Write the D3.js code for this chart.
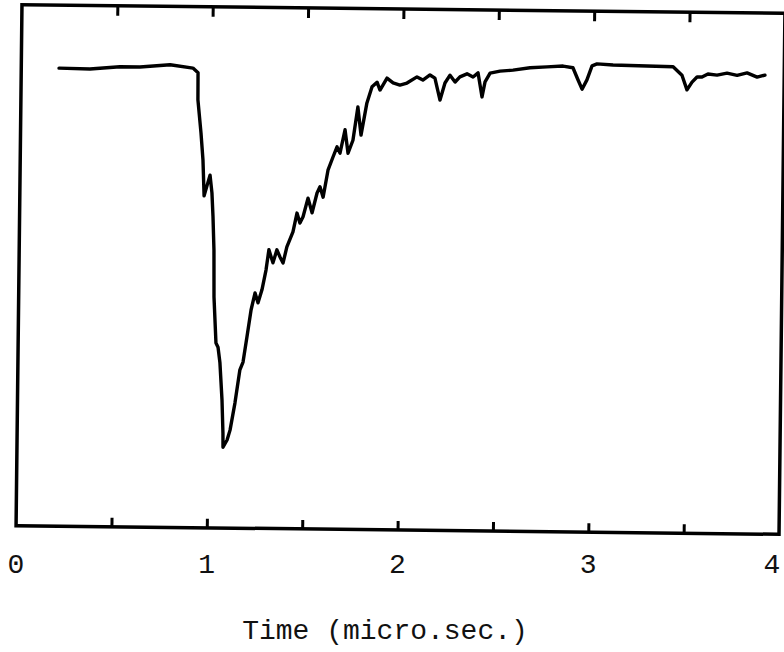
<!DOCTYPE html>
<html>
<head>
<meta charset="utf-8">
<script src="https://cdn.jsdelivr.net/npm/d3@7/dist/d3.min.js"></script>
<style>
  html, body { margin: 0; padding: 0; background: #fff; }
  svg { display: block; }
</style>
</head>
<body>
<div id="chart"></div>
<script>
// Oscilloscope trace: signal deflection against time (microseconds)
const timeUs = [
  0.198, 0.360, 0.517, 0.622, 0.780, 0.900, 0.927, 0.928, 0.946, 0.958,
  0.966, 0.996, 1.007, 1.014, 1.021, 1.024, 1.037, 1.048, 1.059, 1.072,
  1.079, 1.080, 1.101, 1.116, 1.140, 1.164, 1.180, 1.199, 1.219, 1.239,
  1.255, 1.275, 1.295, 1.309, 1.331, 1.351, 1.368, 1.384, 1.403, 1.434,
  1.454, 1.470, 1.486, 1.511, 1.533, 1.558, 1.573, 1.590, 1.614, 1.639,
  1.660, 1.676, 1.701, 1.718, 1.743, 1.767, 1.785, 1.814, 1.840, 1.866,
  1.882, 1.918, 1.950, 1.986, 2.023, 2.075, 2.106, 2.143, 2.169, 2.197,
  2.222, 2.248, 2.275, 2.300, 2.337, 2.369, 2.395, 2.417, 2.432, 2.458,
  2.510, 2.578, 2.667, 2.756, 2.840, 2.892, 2.919, 2.941, 2.966, 2.992,
  3.018, 3.102, 3.280, 3.417, 3.464, 3.491, 3.517, 3.543, 3.569, 3.600,
  3.648, 3.700, 3.753, 3.805, 3.858, 3.899
];
const signal = [
  8.79, 8.78, 8.83, 8.83, 8.88, 8.82, 8.73, 8.21, 7.58, 7.06,
  6.37, 6.77, 6.43, 5.97, 5.33, 4.43, 3.55, 3.47, 3.17, 2.46,
  1.82, 1.55, 1.69, 1.88, 2.40, 3.04, 3.19, 3.67, 4.19, 4.52,
  4.33, 4.58, 4.96, 5.35, 5.10, 5.35, 5.21, 5.10, 5.41, 5.70,
  6.06, 5.87, 5.99, 6.35, 6.07, 6.45, 6.57, 6.37, 6.89, 7.14,
  7.34, 7.22, 7.67, 7.22, 7.47, 8.11, 7.57, 8.19, 8.50, 8.59,
  8.44, 8.67, 8.58, 8.54, 8.58, 8.70, 8.64, 8.74, 8.68, 8.26,
  8.59, 8.74, 8.61, 8.71, 8.77, 8.71, 8.79, 8.33, 8.62, 8.79,
  8.83, 8.85, 8.90, 8.92, 8.94, 8.91, 8.68, 8.50, 8.68, 8.95,
  8.99, 8.97, 8.96, 8.95, 8.79, 8.51, 8.66, 8.76, 8.76, 8.82,
  8.80, 8.84, 8.80, 8.85, 8.77, 8.81
];
const xTickValues = [0.5, 1, 1.5, 2, 2.5, 3, 3.5];
const xLabelValues = [0, 1, 2, 3, 4];
const xLabelText = ["0", "1", "2", "3", "4"];
const xTitle = "Time (micro.sec.)";

const W = 784, H = 652;
const svg = d3.select("#chart").append("svg")
  .attr("width", W).attr("height", H)
  .attr("viewBox", `0 0 ${W} ${H}`);

svg.append("rect").attr("width", W).attr("height", H).attr("fill", "#fff");

const x = d3.scaleLinear().domain([0, 4]).range([19, 782]);
const y = d3.scaleLinear().domain([0, 10]).range([530, 9]);

// the plotted frame sits slightly tilted on the sheet
const frame = svg.append("g")
  .attr("transform", "rotate(0.65, 400.5, 269.5)");

frame.append("rect")
  .attr("x", x(0)).attr("y", y(10))
  .attr("width", x(4) - x(0)).attr("height", y(0) - y(10))
  .attr("fill", "none")
  .attr("stroke", "#000")
  .attr("stroke-width", 3.5);

// inward ticks on bottom and top edges
const bottomAxis = d3.axisBottom(x).tickValues(xTickValues).tickSizeInner(-9).tickSizeOuter(0).tickFormat("");
const topAxis = d3.axisTop(x).tickValues(xTickValues).tickSizeInner(-10).tickSizeOuter(0).tickFormat("");

frame.append("g").attr("transform", `translate(0,${y(0)})`).call(bottomAxis)
  .call(g => g.select(".domain").remove())
  .call(g => g.selectAll("line").attr("stroke", "#000").attr("stroke-width", 3));
frame.append("g").attr("transform", `translate(0,${y(10)})`).call(topAxis)
  .call(g => g.select(".domain").remove())
  .call(g => g.selectAll("line").attr("stroke", "#000").attr("stroke-width", 3));

const pts = timeUs.map((t, i) => [t, signal[i]]);
const line = d3.line().x(d => x(d[0])).y(d => y(d[1])).curve(d3.curveLinear);

frame.append("path")
  .datum(pts)
  .attr("d", line)
  .attr("fill", "none")
  .attr("stroke", "#000")
  .attr("stroke-width", 3.4)
  .attr("stroke-linejoin", "round")
  .attr("stroke-linecap", "round");

// typed axis labels
const mono = "'Courier New', 'Liberation Mono', monospace";
svg.append("g").selectAll("text")
  .data(xLabelValues)
  .join("text")
  .attr("x", d => Math.min(x(d) - 3, W - 12))
  .attr("y", 573)
  .attr("text-anchor", "middle")
  .attr("font-family", mono)
  .attr("font-size", 28)
  .attr("fill", "#111")
  .text((d, i) => xLabelText[i]);

svg.append("text")
  .attr("x", 385)
  .attr("y", 639)
  .attr("text-anchor", "middle")
  .attr("font-family", mono)
  .attr("font-size", 28)
  .attr("fill", "#111")
  .text(xTitle);
</script>
</body>
</html>
